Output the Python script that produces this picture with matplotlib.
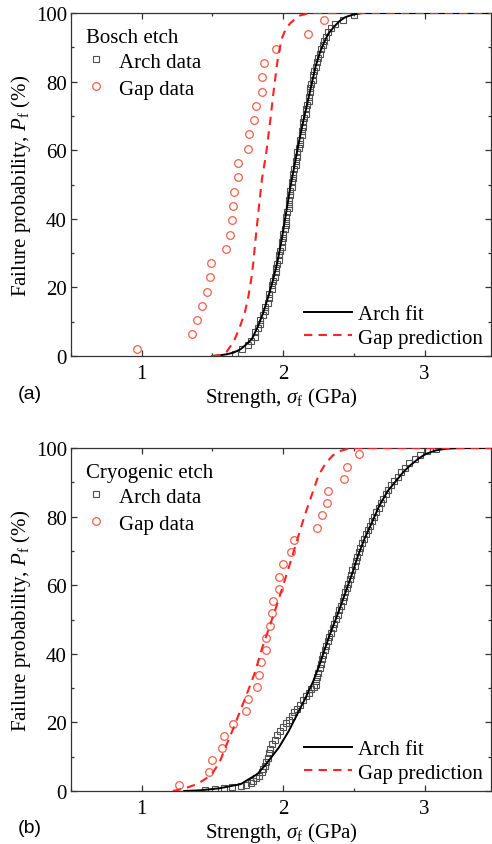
"""
Failure probability vs strength for Bosch and cryogenic etched samples.
Arch data / gap data with Weibull-type fit and gap prediction curves.
"""

import matplotlib
matplotlib.use("Agg")
import matplotlib.pyplot as plt
from matplotlib.ticker import MultipleLocator
from matplotlib.lines import Line2D


# (a) Bosch etch
TOP_ARCH_S = [1.66, 1.71, 1.75, 1.77, 1.80, 1.80, 1.82, 1.84, 1.84, 1.86,
              1.87, 1.87, 1.89, 1.90, 1.90, 1.92, 1.92, 1.93, 1.94, 1.95,
              1.95, 1.96, 1.97, 1.97, 1.98, 1.99, 1.99, 2.00, 2.00, 2.01,
              2.02, 2.02, 2.02, 2.03, 2.04, 2.04, 2.04, 2.05, 2.05, 2.06,
              2.06, 2.07, 2.07, 2.08, 2.09, 2.09, 2.10, 2.10, 2.11, 2.12,
              2.12, 2.13, 2.13, 2.14, 2.14, 2.15, 2.16, 2.16, 2.17, 2.18,
              2.18, 2.19, 2.19, 2.20, 2.21, 2.21, 2.22, 2.23, 2.24, 2.25,
              2.26, 2.27, 2.28, 2.29, 2.30, 2.32, 2.34, 2.37, 2.42, 2.50]
TOP_ARCH_P = [0.6, 1.9, 3.1, 4.4, 5.6, 6.9, 8.1, 9.4, 10.6, 11.9,
              13.1, 14.4, 15.6, 16.9, 18.1, 19.4, 20.6, 21.9, 23.1, 24.4,
              25.6, 26.9, 28.1, 29.4, 30.6, 31.9, 33.1, 34.4, 35.6, 36.9,
              38.1, 39.4, 40.6, 41.9, 43.1, 44.4, 45.6, 46.9, 48.1, 49.4,
              50.6, 51.9, 53.1, 54.4, 55.6, 56.9, 58.1, 59.4, 60.6, 61.9,
              63.1, 64.4, 65.6, 66.9, 68.1, 69.4, 70.6, 71.9, 73.1, 74.4,
              75.6, 76.9, 78.1, 79.4, 80.6, 81.9, 83.1, 84.4, 85.6, 86.9,
              88.1, 89.4, 90.6, 91.9, 93.1, 94.4, 95.6, 96.9, 98.1, 99.4]
TOP_GAP_S = [0.97, 1.356, 1.391, 1.424, 1.464, 1.485, 1.488, 1.594, 1.622, 1.638,
             1.645, 1.650, 1.678, 1.681, 1.751, 1.756, 1.792, 1.810, 1.848, 1.850,
             1.865, 1.947, 2.175, 2.29]
TOP_GAP_P = [2.1, 6.3, 10.4, 14.6, 18.8, 22.9, 27.1, 31.3, 35.4, 39.6,
             43.8, 47.9, 52.1, 56.3, 60.4, 64.6, 68.8, 72.9, 77.1, 81.3,
             85.4, 89.6, 93.8, 97.9]
TOP_FIT_S = [1.50, 1.55, 1.60, 1.65, 1.70, 1.74, 1.78, 1.82, 1.86, 1.90,
             1.93, 1.96, 1.99, 2.02, 2.05, 2.08, 2.11, 2.14, 2.17, 2.20,
             2.23, 2.26, 2.29, 2.32, 2.36, 2.40, 2.44, 2.50, 2.56, 3.5]
TOP_FIT_P = [0, 0.2, 0.5, 1.0, 2.0, 3.4, 5.0, 8.5, 12.7, 18.0,
             22.4, 27.5, 34.0, 41.5, 49.0, 55.5, 62.0, 68.0, 73.5, 79.0,
             84.5, 88.5, 91.5, 94.0, 96.0, 97.7, 98.8, 99.6, 100, 100]
TOP_PRED_S = [1.50, 1.56, 1.60, 1.65, 1.69, 1.73, 1.755, 1.775, 1.79, 1.80,
              1.825, 1.85, 1.88, 1.91, 1.935, 1.965, 1.99, 2.02, 2.05, 2.09,
              2.12, 2.17, 2.21, 3.5]
TOP_PRED_P = [0, 0.3, 1.2, 4.2, 8.0, 12.8, 17.5, 22.5, 27.5, 32.0,
              42.0, 51.5, 59.0, 69.0, 78.0, 87.5, 92.5, 95.5, 97.0, 98.5,
              99.3, 99.8, 100, 100]

# (b) Cryogenic etch
BOT_ARCH_S = [1.45, 1.52, 1.58, 1.64, 1.70, 1.74, 1.77, 1.79, 1.81, 1.83,
              1.85, 1.86, 1.87, 1.88, 1.89, 1.90, 1.91, 1.92, 1.94, 1.96,
              1.98, 2.00, 2.02, 2.04, 2.06, 2.08, 2.10, 2.12, 2.14, 2.16,
              2.18, 2.20, 2.22, 2.23, 2.23, 2.24, 2.25, 2.26, 2.265, 2.275,
              2.285, 2.295, 2.305, 2.315, 2.325, 2.34, 2.35, 2.36, 2.375, 2.385,
              2.395, 2.41, 2.42, 2.43, 2.44, 2.45, 2.46, 2.47, 2.48, 2.49,
              2.505, 2.515, 2.525, 2.535, 2.545, 2.555, 2.57, 2.585, 2.60, 2.615,
              2.63, 2.645, 2.66, 2.675, 2.69, 2.705, 2.725, 2.745, 2.765, 2.785,
              2.81, 2.835, 2.86, 2.89, 2.93, 2.97, 3.02, 3.08]
BOT_ARCH_P = [0.3, 0.6, 0.9, 1.2, 1.5, 1.9, 2.4, 3.0, 3.7, 4.5,
              5.4, 6.4, 7.4, 8.5, 9.7, 11.0, 12.3, 13.6, 14.9, 16.2,
              17.5, 18.7, 19.8, 20.8, 21.8, 22.9, 24.0, 25.2, 26.4, 27.6,
              28.7, 29.6, 30.3, 31.0, 32.0, 33.2, 34.5, 35.8, 37.1, 38.4,
              39.7, 41.0, 42.3, 43.6, 44.9, 46.2, 47.5, 48.8, 50.1, 51.4,
              52.7, 54.0, 55.3, 56.6, 57.9, 59.2, 60.5, 61.8, 63.1, 64.4,
              65.7, 67.0, 68.3, 69.6, 70.9, 72.2, 73.5, 74.8, 76.1, 77.4,
              78.7, 80.0, 81.3, 82.6, 83.9, 85.2, 86.5, 87.8, 89.1, 90.4,
              91.7, 93.0, 94.3, 95.6, 96.9, 98.0, 99.0, 99.6]
BOT_GAP_S = [1.265, 1.474, 1.498, 1.569, 1.585, 1.645, 1.739, 1.751, 1.813, 1.829,
             1.841, 1.882, 1.882, 1.905, 1.924, 1.931, 1.972, 1.972, 2.000, 2.054,
             2.078, 2.237, 2.273, 2.308, 2.315, 2.429, 2.450, 2.540]
BOT_GAP_P = [1.8, 5.4, 8.9, 12.5, 16.1, 19.6, 23.2, 26.8, 30.4, 33.9,
             37.5, 41.1, 44.6, 48.2, 51.8, 55.4, 58.9, 62.5, 66.1, 69.6,
             73.2, 76.8, 80.4, 83.9, 87.5, 91.1, 94.6, 98.2]
BOT_FIT_S = [1.30, 1.41, 1.55, 1.70, 1.82, 1.88, 1.97, 2.04, 2.10, 2.16,
             2.215, 2.255, 2.29, 2.33, 2.375, 2.41, 2.45, 2.49, 2.53, 2.575,
             2.63, 2.68, 2.74, 2.79, 2.85, 2.90, 2.96, 3.01, 3.08, 3.15,
             3.25, 3.5]
BOT_FIT_P = [0, 0.2, 0.8, 2.0, 5.0, 7.9, 12.7, 17.5, 22.4, 27.3,
             32.2, 36.5, 40.8, 45.6, 50.4, 54.3, 59.0, 63.6, 68.7, 73.5,
             78.5, 83.2, 87.5, 90.0, 93.0, 95.0, 97.0, 98.3, 99.3, 99.8,
             100, 100]
BOT_PRED_S = [1.22, 1.30, 1.39, 1.45, 1.50, 1.55, 1.60, 1.65, 1.70, 1.75,
              1.80, 1.85, 1.90, 1.95, 2.00, 2.05, 2.10, 2.15, 2.20, 2.25,
              2.30, 2.35, 2.40, 2.45, 2.50, 3.5]
BOT_PRED_P = [0, 0.7, 2.0, 3.5, 5.2, 8.3, 13.5, 18.5, 23.7, 29.0,
              34.5, 41.5, 47.5, 53.5, 60.0, 66.5, 73.3, 80.0, 86.0, 92.0,
              95.5, 97.8, 99.1, 99.7, 100, 100]

ARCH_C = "#505050"
GAP_C = "#f0604c"
PRED_C = "#ff2222"
FS = 15

plt.rcParams["font.family"] = ["Liberation Serif", "DejaVu Serif"]
plt.rcParams["mathtext.fontset"] = "custom"
plt.rcParams["mathtext.rm"] = "Liberation Serif"
plt.rcParams["mathtext.it"] = "Liberation Serif:italic"


def draw_panel(ax, etch, arch_s, arch_p, gap_s, gap_p, fit_s, fit_p, pred_s, pred_p):
    ax.plot(arch_s, arch_p, ls="none", marker="s", ms=4.2, mfc="none",
            mec=ARCH_C, mew=0.8, zorder=2)
    ax.plot(gap_s, gap_p, ls="none", marker="o", ms=5.5, mfc="none",
            mec=GAP_C, mew=0.9, zorder=3)
    ax.plot(fit_s, fit_p, color="black", lw=1.4, zorder=4)
    ax.plot(pred_s, pred_p, color=PRED_C, lw=1.5, ls=(0, (4, 3)), zorder=4)

    ax.set_xlim(0.5, 3.47)
    ax.set_ylim(0, 100)
    ax.xaxis.set_major_locator(MultipleLocator(1))
    ax.xaxis.set_minor_locator(MultipleLocator(0.5))
    ax.yaxis.set_major_locator(MultipleLocator(20))
    ax.yaxis.set_minor_locator(MultipleLocator(10))
    ax.tick_params(which="both", direction="in", top=True, right=True,
                   labelsize=FS, width=0.9, color="#333333")
    ax.tick_params(which="major", length=4.5)
    ax.tick_params(which="minor", length=2.5)
    ax.tick_params(axis="x", pad=6)
    ax.tick_params(axis="y", pad=3)
    for sp in ax.spines.values():
        sp.set_linewidth(0.9)
        sp.set_color("#333333")

    ax.set_xlabel(r"Strength, $\sigma_{\rm f}$ (GPa)", fontsize=FS, labelpad=1)
    ax.set_ylabel(r"Failure probability, $P_{\rm f}$ (%)", fontsize=FS, labelpad=2)

    # data legend, top left
    h_data = [
        Line2D([], [], ls="none", marker="s", ms=4.2, mfc="none", mec=ARCH_C, mew=0.8),
        Line2D([], [], ls="none", marker="o", ms=5.5, mfc="none", mec=GAP_C, mew=0.9),
    ]
    leg1 = ax.legend(h_data, ["Arch data", "Gap data"], title=etch,
                     loc="upper left", frameon=False, fontsize=FS,
                     title_fontsize=FS, alignment="left", handlelength=1.0,
                     handletextpad=0.6, labelspacing=0.35, borderaxespad=0.25,
                     borderpad=0.45)
    leg1._legend_box.sep = 4
    ax.add_artist(leg1)

    # curve legend, bottom right
    h_fit = [
        Line2D([], [], color="black", lw=1.4),
        Line2D([], [], color=PRED_C, lw=1.5, ls=(0, (4, 3))),
    ]
    ax.legend(h_fit, ["Arch fit", "Gap prediction"], loc="lower right",
              frameon=False, fontsize=FS, handlelength=2.3, handletextpad=0.3,
              labelspacing=0.2, borderaxespad=0.1, borderpad=0.3)


fig = plt.figure(figsize=(4.92, 8.45), dpi=100)
ax_a = fig.add_axes([0.1443, 0.5775, 0.8537, 0.4059])
ax_b = fig.add_axes([0.1443, 0.0627, 0.8537, 0.4059])

draw_panel(ax_a, "Bosch etch", TOP_ARCH_S, TOP_ARCH_P, TOP_GAP_S, TOP_GAP_P,
           TOP_FIT_S, TOP_FIT_P, TOP_PRED_S, TOP_PRED_P)
draw_panel(ax_b, "Cryogenic etch", BOT_ARCH_S, BOT_ARCH_P, BOT_GAP_S, BOT_GAP_P,
           BOT_FIT_S, BOT_FIT_P, BOT_PRED_S, BOT_PRED_P)

fig.text(30 / 492, 1 - 395 / 845, "(a)", family="Liberation Sans", fontsize=14,
         ha="center", va="center")
fig.text(30 / 492, 1 - 829 / 845, "(b)", family="Liberation Sans", fontsize=14,
         ha="center", va="center")

fig.savefig("out.png", dpi=100)
